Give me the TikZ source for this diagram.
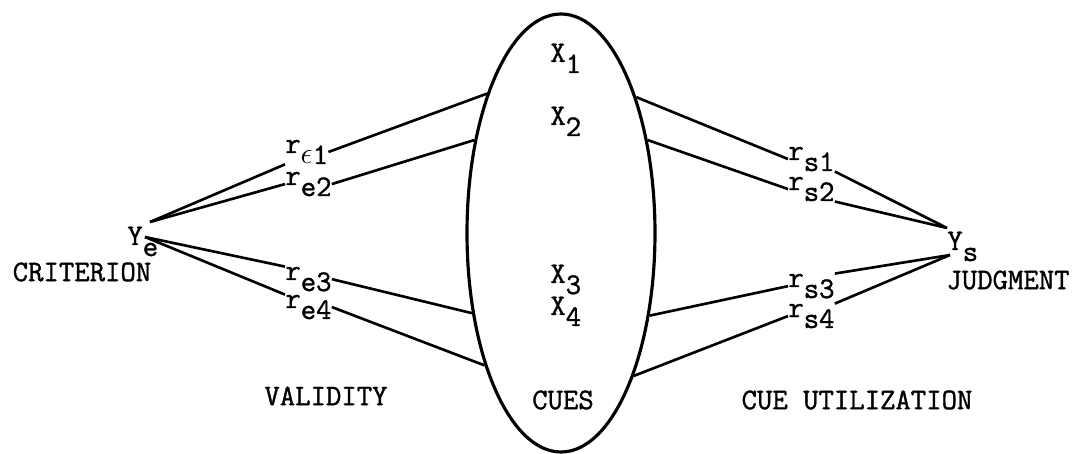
\documentclass[tikz,border=0pt]{standalone}
\usepackage{fontspec}
\usetikzlibrary{shapes.geometric}
\newfontfamily\typefont[FakeBold=1.2]{Latin Modern Mono}
\newcommand{\lowsub}[1]{\raisebox{-0.22cm}{#1}}

\begin{document}
\begin{tikzpicture}[
  lbl/.style={inner sep=0pt, anchor=base west, font=\typefont\bfseries\fontsize{17}{20}\selectfont},
  title/.style={inner sep=0pt, font=\typefont\bfseries\fontsize{17}{20}\selectfont},
  link/.style={line width=1.5pt},
  cueset/.style={draw, ellipse, line width=1.8pt, minimum width=3.76cm, minimum height=8.76cm, inner sep=0pt}
]
  \useasboundingbox (0,0) rectangle (21.5,9.06);

  % cues in the middle
  \node[cueset] (cues) at (11.22,4.40) {};
  \node[lbl] (x1) at (11.00,7.82) {X\lowsub{1}};
  \node[lbl] (x2) at (11.00,6.56) {X\lowsub{2}};
  \node[lbl] (x3) at (11.00,3.40) {X\lowsub{3}};
  \node[lbl] (x4) at (11.00,2.76) {X\lowsub{4}};
  \node[title] (cuestxt) at (11.26,1.06) {CUES};

  % criterion side
  \coordinate (yeU) at (3.00,4.62);
  \coordinate (yeL) at (2.90,4.32);
  \node[lbl] (ye) at (2.54,4.16) {Y\lowsub{e}};
  \node[title] (crit) at (1.64,3.62) {CRITERION};
  \node[lbl] (re1) at (5.70,6.00) {r\lowsub{$\epsilon$1}};
  \node[lbl] (re2) at (5.70,5.36) {r\lowsub{e2}};
  \node[lbl] (re3) at (5.70,3.46) {r\lowsub{e3}};
  \node[lbl] (re4) at (5.70,2.90) {r\lowsub{e4}};
  \node[title] (valid) at (6.52,1.14) {VALIDITY};

  % judgment side
  \coordinate (ysU) at (18.94,4.50);
  \coordinate (ysL) at (19.00,3.96);
  \node[lbl] (ys) at (18.94,4.06) {Y\lowsub{s}};
  \node[title] (judg) at (20.16,3.46) {JUDGMENT};
  \node[lbl] (rs1) at (15.76,5.86) {r\lowsub{s1}};
  \node[lbl] (rs2) at (15.76,5.26) {r\lowsub{s2}};
  \node[lbl] (rs3) at (15.76,3.32) {r\lowsub{s3}};
  \node[lbl] (rs4) at (15.76,2.72) {r\lowsub{s4}};
  \node[title] (util) at (17.14,1.06) {CUE UTILIZATION};

  \draw[link] (yeU) -- (re1.south west);
  \draw[link] (yeU) -- (re2.west);
  \draw[link] (yeL) -- (re3.north west);
  \draw[link] (yeL) -- (re4.north west);
  \draw[link] (re1.east) -- (cues.118);
  \draw[link] (re2.east) -- (cues.133);
  \draw[link] (re3.east) -- (cues.222);
  \draw[link] (re4.east) -- (cues.240);

  \draw[link] (cues.61) -- (rs1.west);
  \draw[link] (cues.47) -- (rs2.west);
  \draw[link] (cues.317) -- (rs3.west);
  \draw[link] (cues.297) -- (rs4.west);
  \draw[link] (rs1.south east) -- (ysU);
  \draw[link] (rs2.south east) -- (ysU);
  \draw[link] (rs3.north east) -- (ysL);
  \draw[link] (rs4.north east) -- (ysL);
\end{tikzpicture}
\end{document}
